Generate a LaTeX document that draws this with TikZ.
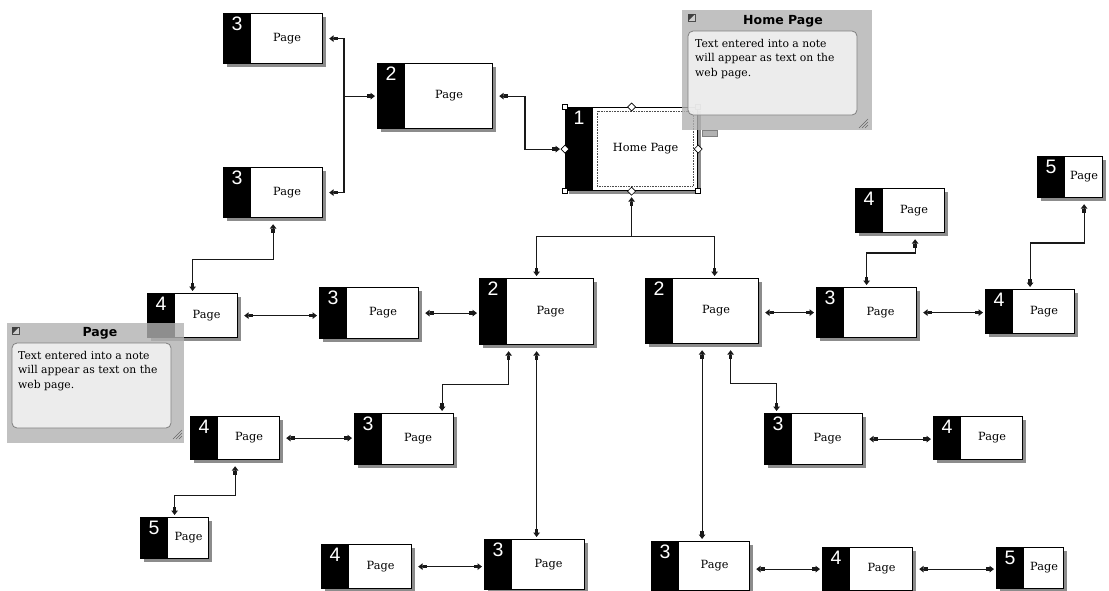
\documentclass[tikz,border=0pt]{standalone}
\usepackage{fontspec}
\setmainfont{DejaVu Serif}
\newfontfamily\numfont{Liberation Sans}
\newfontfamily\ttlfont{DejaVu Sans}
\usetikzlibrary{arrows.meta,calc}
\definecolor{shadowgray}{RGB}{140,140,140}
\definecolor{notegray}{RGB}{178,178,178}
\definecolor{noteinner}{RGB}{243,243,243}
\definecolor{linegray}{RGB}{25,25,25}
\newcommand{\pbox}[7]{%
  \fill[shadowgray] (#2+4,#3+4) rectangle ++(#4,#5);
  \node[pagebox, minimum width=#4pt, minimum height=#5pt] (#1) at (#2,#3) {};
  \fill (#1.north west) rectangle ([xshift=28pt]#1.south west);
  \node[numlabel] (#1n) at ([xshift=14pt,yshift=-4pt]#1.north west) {#6};
  \node[pagelabel] (#1l) at ([xshift=14pt]#1.center) {#7};
}
\begin{document}
\begin{tikzpicture}[x=1pt,y=-1pt,
  pagebox/.style={draw=black, line width=1.2pt, fill=white, anchor=north west, inner sep=0pt},
  numlabel/.style={text=white, font=\numfont\fontsize{19.5}{19.5}\selectfont, anchor=north, inner sep=0pt},
  pagelabel/.style={font=\fontsize{11.3}{13}\selectfont, inner sep=0pt},
  conn/.style={draw=linegray, line width=1.2pt},
  >={Rectangle[length=4pt,width=3.6pt] Triangle[length=4.5pt,width=6.5pt]},
  notetitle/.style={font=\ttlfont\bfseries\fontsize{12.5}{14}\selectfont, inner sep=0pt, anchor=base},
  notetext/.style={font=\fontsize{10.8}{14.5}\selectfont, inner sep=0pt, anchor=north west, align=left},
  notebg/.style={fill=notegray, fill opacity=0.8},
  noteinbox/.style={rounded corners=5pt, draw=gray, fill=noteinner, fill opacity=0.85, line width=0.8pt},
  grip/.style={draw=black!60, line width=0.6pt}
]
\useasboundingbox (0,0) rectangle (1109,590);

% boxes
\pbox{A3a}{223}{13}{99}{50}{3}{Page}
\pbox{A3b}{223}{167}{99}{50}{3}{Page}
\pbox{A2}{377}{63}{115}{65}{2}{Page}
\pbox{H}{565}{107}{132}{83}{1}{Home Page}
\pbox{L4}{147}{293}{90}{44}{4}{Page}
\pbox{L3}{319}{287}{99}{51}{3}{Page}
\pbox{M2L}{479}{278}{114}{66}{2}{Page}
\pbox{M2R}{645}{278}{113}{65}{2}{Page}
\pbox{R3}{816}{287}{100}{50}{3}{Page}
\pbox{R4}{985}{289}{89}{44}{4}{Page}
\pbox{R4u}{855}{188}{89}{44}{4}{Page}
\pbox{R5}{1037}{156}{65}{41}{5}{Page}
\pbox{LL4}{190}{416}{89}{43}{4}{Page}
\pbox{LL3}{354}{413}{99}{51}{3}{Page}
\pbox{LL5}{140}{517}{68}{41}{5}{Page}
\pbox{B4L}{321}{544}{90}{44}{4}{Page}
\pbox{B3L}{484}{539}{100}{50}{3}{Page}
\pbox{RL3}{764}{413}{98}{51}{3}{Page}
\pbox{RL4}{933}{416}{89}{43}{4}{Page}
\pbox{B3R}{651}{541}{98}{49}{3}{Page}
\pbox{B4R}{822}{547}{90}{43}{4}{Page}
\pbox{B5R}{996}{547}{67}{41}{5}{Page}

% selection on home box
\draw[densely dotted, black!70, line width=0.6pt] (597,111) rectangle (693,186);
\foreach \p in {H.north west,H.north east,H.south west,H.south east}
  \draw[fill=white, line width=0.6pt] ([shift={(-2.5pt,-2.5pt)}]\p) rectangle ([shift={(2.5pt,2.5pt)}]\p);
\foreach \p in {H.north,H.south,H.west,H.east}
  \draw[fill=white, line width=0.6pt] ([xshift=-4pt]\p) -- ([yshift=4pt]\p) -- ([xshift=4pt]\p) -- ([yshift=-4pt]\p) -- cycle;

% connectors
\path (A2.west) ++(-33,0) coordinate (jA);
\draw[conn,<->,shorten <=6pt,shorten >=6pt] (A3a.east) -| (jA) |- (A3b.east);
\draw[conn,->,shorten >=2pt] (jA) -- (A2.west);
\draw[conn,<->,shorten <=6pt,shorten >=5pt] (A2.east) -| ([xshift=-40pt]H.west) -- (H.west);
\path (H.south) ++(0,45) coordinate (jH);
\draw[conn,->,shorten >=6pt] (jH) -- (H.south);
\draw[conn,->,shorten >=2pt] (jH) -| (M2L.north);
\draw[conn,->,shorten >=2pt] (jH) -| ([xshift=12.5pt]M2R.north);
\draw[conn,<->,shorten <=6pt,shorten >=2pt] (A3b.south) -- ++(0,41) -| (L4.north);
\draw[conn,<->,shorten <=6pt,shorten >=2pt] (L4.east) -- (L4.east -| L3.west);
\draw[conn,<->,shorten <=6pt,shorten >=2pt] (L3.east) -- (L3.east -| M2L.west);
\draw[conn,<->,shorten <=6pt,shorten >=2pt] ([xshift=-28pt]M2L.south) -- ++(0,39) -| ([xshift=38pt]LL3.north);
\draw[conn,<->,shorten <=6pt,shorten >=2pt] (M2L.south) -- (M2L.south |- B3L.north);
\draw[conn,<->,shorten <=6pt,shorten >=2pt] (LL4.east) -- (LL4.east -| LL3.west);
\draw[conn,<->,shorten <=6pt,shorten >=2pt] (LL4.south) -- ++(0,35) -| (LL5.north);
\draw[conn,<->,shorten <=6pt,shorten >=2pt] (B4L.east) -- (B4L.east -| B3L.west);
\draw[conn,<->,shorten <=6pt,shorten >=2pt] (M2R.south) -- (M2R.south |- B3R.north);
\draw[conn,<->,shorten <=6pt,shorten >=2pt] ([xshift=28.5pt]M2R.south) -- ++(0,39) -| ([xshift=-37pt]RL3.north);
\draw[conn,<->,shorten <=6pt,shorten >=2pt] (RL3.east) -- (RL3.east -| RL4.west);
\draw[conn,<->,shorten <=6pt,shorten >=2pt] (R3.west -| M2R.east) -- (R3.west);
\draw[conn,<->,shorten <=6pt,shorten >=2pt] (R3.east) -- (R3.east -| R4.west);
\draw[conn,<->,shorten <=2pt,shorten >=6pt] (R3.north) -- ++(0,-34) -| ([xshift=15pt]R4u.south);
\draw[conn,<->,shorten <=2pt,shorten >=6pt] (R4.north) -- ++(0,-46) -| ([xshift=14pt]R5.south);
\draw[conn,<->,shorten <=6pt,shorten >=2pt] (B4R.west -| B3R.east) -- (B4R.west);
\draw[conn,<->,shorten <=6pt,shorten >=2pt] (B4R.east) -- (B4R.east -| B5R.west);

% note: Home Page
\fill[notebg] (682,10) rectangle (872,130);
\draw[noteinbox] (688,31) rectangle (857,115);
\draw[draw=gray, fill=notegray, line width=0.6pt] (702,130) rectangle (717,136);
\draw[black!70, fill=gray!40, line width=0.5pt] (688,14) rectangle (695,21);
\fill[black!75] (688,14) -- (695,14) -- (688,21) -- cycle;
\node[notetitle] (hnT) at (783,24.5) {Home Page};
\node[notetext] (hnX) at (695,39) {Text entered into a note\\will appear as text on the\\web page.};
\draw[grip] (859,128) -- (868,119) (862,128) -- (868,122) (865,128) -- (868,125);

% note: Page
\fill[notebg] (7,323) rectangle (184,443);
\draw[noteinbox] (12,343) rectangle (171,428);
\draw[black!70, fill=gray!40, line width=0.5pt] (12,327) rectangle (19,334);
\fill[black!75] (12,327) -- (19,327) -- (12,334) -- cycle;
\node[notetitle] (pnT) at (100,336.5) {Page};
\node[notetext] (pnX) at (18,351) {Text entered into a note\\will appear as text on the\\web page.};
\draw[grip] (173,439) -- (182,430) (176,439) -- (182,433) (179,439) -- (182,436);
\end{tikzpicture}
\end{document}
